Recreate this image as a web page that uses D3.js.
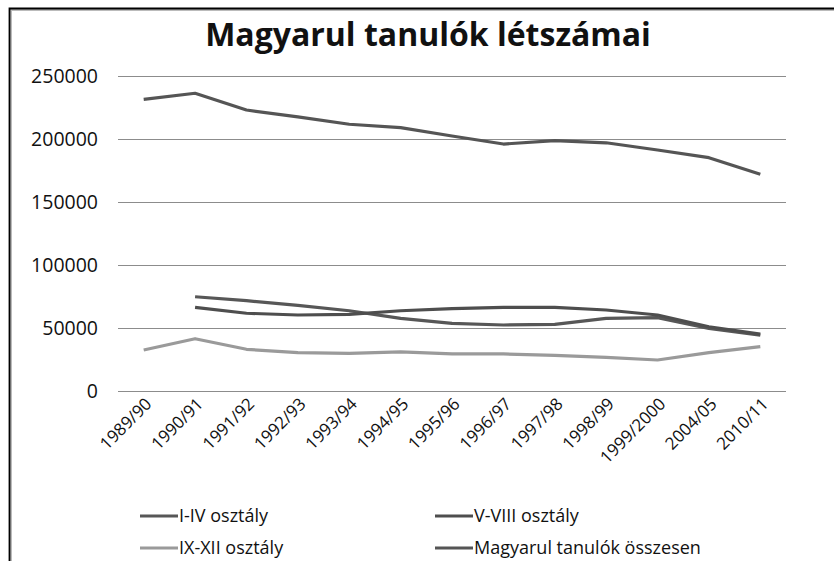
<!DOCTYPE html>
<html>
<head>
<meta charset="utf-8">
<script src="https://cdn.jsdelivr.net/npm/d3@7"></script>
<style>
  body { margin: 0; background: #fff; }
  text { font-family: "Open Sans", Lato, sans-serif; fill: #111; }
</style>
</head>
<body>
<div id="chart"></div>
<script>
// Magyarul tanulók létszámai - line chart
const years = ["1989/90", "1990/91", "1991/92", "1992/93", "1993/94", "1994/95", "1995/96",
  "1996/97", "1997/98", "1998/99", "1999/2000", "2004/05", "2010/11"];
const grade1to4 = [null, 74800, 71700, 68000, 63700, 57700, 53700, 52400, 52900, 57700, 58200, 49700, 44400];
const grade5to8 = [null, 66400, 61700, 60300, 60800, 63700, 65300, 66400, 66400, 64300, 60300, 51000, 45200];
const grade9to12 = [32500, 41500, 33100, 30400, 29900, 31000, 29400, 29400, 28300, 26700, 24600, 30400, 35200];
const total = [231500, 236300, 223000, 217500, 211700, 209000, 202400, 196000, 198700, 197000, 191300, 185200, 172000];
const yTicks = [0, 50000, 100000, 150000, 200000, 250000];

const series = [
  { name: "I-IV osztály", values: grade1to4, color: "#575757" },
  { name: "V-VIII osztály", values: grade5to8, color: "#4e4e4e" },
  { name: "IX-XII osztály", values: grade9to12, color: "#9a9a9a" },
  { name: "Magyarul tanulók összesen", values: total, color: "#555555" }
];

const W = 834, H = 561;
const svg = d3.select("#chart").append("svg").attr("width", W).attr("height", H);

// frame (left + top edge only, as in the source image)
svg.append("path").attr("d", "M9.5,561V8.5H834").attr("fill", "none")
  .attr("stroke", "#bbb").attr("stroke-width", 3).attr("transform", "translate(1,1)");
svg.append("path").attr("d", "M9.5,561V8.5H834").attr("fill", "none")
  .attr("stroke", "#000").attr("stroke-width", 1.8);

const x = d3.scaleBand().domain(years).range([118, 786]);
const y = d3.scaleLinear().domain([0, 250000]).range([391, 76]);

svg.append("text")
  .attr("x", 428).attr("y", 46)
  .attr("text-anchor", "middle")
  .attr("font-size", 32).attr("font-weight", "bold")
  .text("Magyarul tanulók létszámai");

// gridlines + y labels
const yAxis = d3.axisLeft(y).tickValues(yTicks).tickSize(-(786 - 118)).tickPadding(20).tickFormat(d3.format("d"));
const ga = svg.append("g").attr("transform", "translate(118,0)").call(yAxis);
ga.select(".domain").remove();
ga.selectAll(".tick line").attr("stroke", "#8c8c8c").attr("stroke-width", 1.2);
ga.selectAll(".tick text").attr("font-size", 19.5).attr("fill", "#111").attr("font-family", null);

// x labels
svg.append("g").selectAll("text")
  .data(years)
  .enter()
  .append("text")
  .attr("text-anchor", "end")
  .attr("font-size", 17)
  .attr("transform", d => `translate(${x(d) + x.bandwidth() / 2 + 9},${405}) rotate(-45)`)
  .text(d => d);

// lines
const line = d3.line()
  .defined(d => d != null)
  .x((d, i) => x(years[i]) + x.bandwidth() / 2)
  .y(d => y(d));

svg.append("g").selectAll("path")
  .data(series)
  .enter()
  .append("path")
  .attr("fill", "none")
  .attr("stroke", d => d.color)
  .attr("stroke-width", 3.2)
  .attr("stroke-linejoin", "round")
  .attr("d", d => line(d.values));

// legend
const legendPos = [[140, 516], [435, 516], [140, 548], [435, 548]];
const lg = svg.append("g").selectAll("g")
  .data(series)
  .enter()
  .append("g")
  .attr("transform", (d, i) => `translate(${legendPos[i][0]},${legendPos[i][1]})`);
lg.append("line").attr("x1", 0).attr("x2", 38).attr("y1", 0).attr("y2", 0)
  .attr("stroke", d => d.color).attr("stroke-width", 3.2);
lg.append("text").attr("x", 39).attr("y", 0).attr("dy", "0.35em")
  .attr("font-size", 18).text(d => d.name);
</script>
</body>
</html>
